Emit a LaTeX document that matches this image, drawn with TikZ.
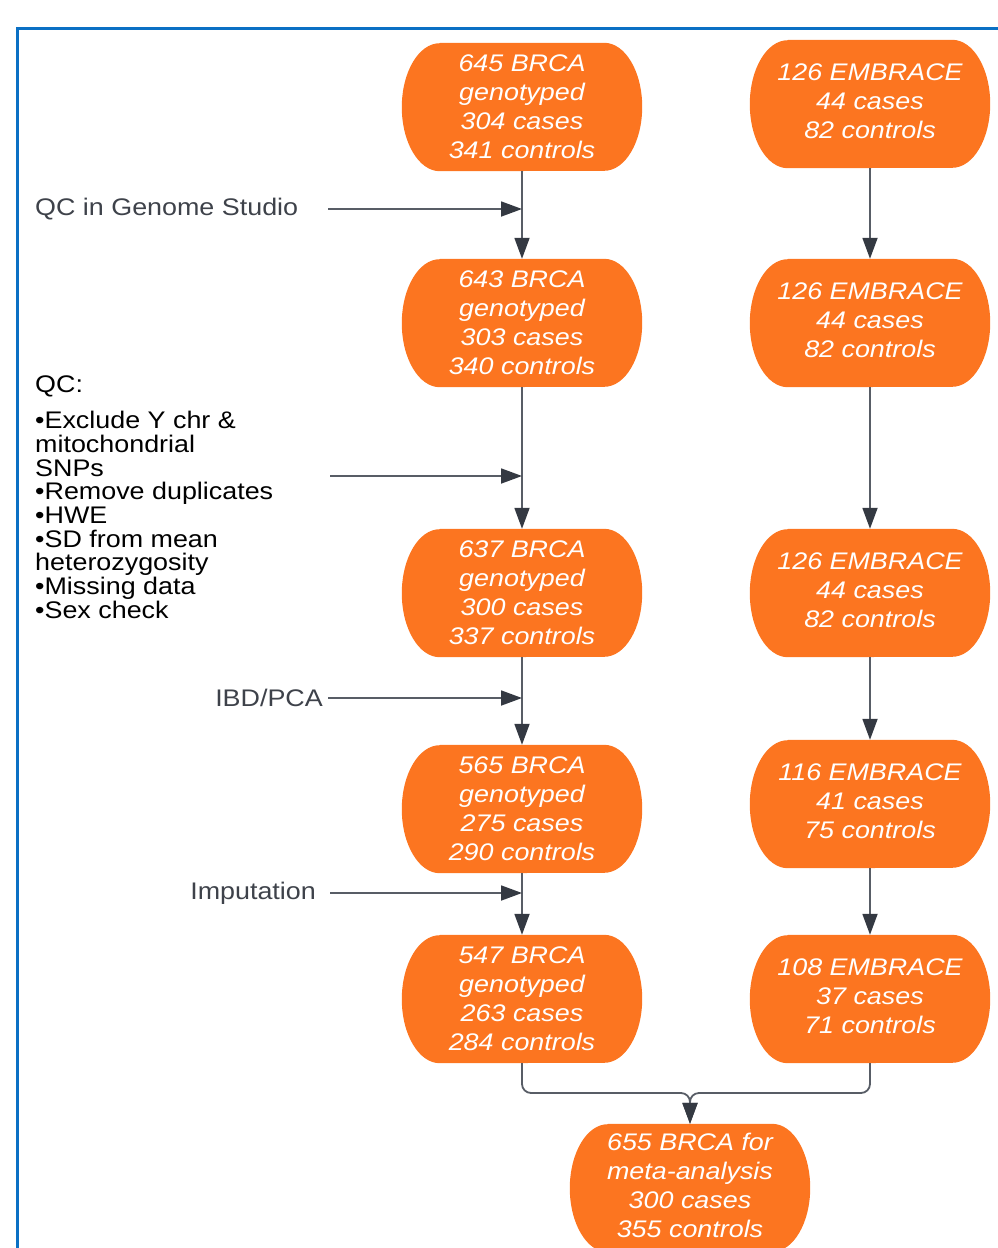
\documentclass[tikz,border=0pt]{standalone}
\usepackage{fontspec}
\setmainfont{Liberation Sans}[FakeStretch=1.12]
\usetikzlibrary{arrows.meta,backgrounds}
\definecolor{boxorange}{RGB}{252,117,32}
\definecolor{framecol}{RGB}{10,112,196}
\definecolor{linecol}{RGB}{88,93,102}
\definecolor{headcol}{RGB}{52,57,66}
\definecolor{labelcol}{RGB}{62,66,74}
\tikzset{
  pill/.style={minimum width=240pt, minimum height=128pt, inner sep=0pt,
    align=center, text=white, font=\fontsize{24}{29}\selectfont\itshape},
  conn/.style={draw=linecol, line width=1.8pt,
    -{Triangle[length=21pt,width=15pt,fill=headcol,color=headcol]}},
  sidelabel/.style={inner sep=0pt, text=labelcol, font=\fontsize{24}{28}\selectfont},
  listlabel/.style={inner sep=0pt, text=black, align=left, font=\fontsize{24}{23.7}\selectfont},
}
% lines of a box set as a centred one-column table
\newcommand{\boxlines}[1]{\begin{tabular}{@{}c@{}}#1\end{tabular}}
\newcommand{\pillshape}[1]{%
  \fill[boxorange] ([xshift=38pt]#1.north west) -- ([xshift=-38pt]#1.north east)
    arc[start angle=90, end angle=-90, x radius=38pt, y radius=64pt]
    -- ([xshift=38pt]#1.south west)
    arc[start angle=270, end angle=90, x radius=38pt, y radius=64pt] -- cycle;}
\begin{document}
\begin{tikzpicture}[x=1pt,y=1pt]
\useasboundingbox (0,0) rectangle (998,-1248);
% frame
\draw[framecol, line width=3.5pt] (17.5,-1270) -- (17.5,-28.3) -- (1020,-28.3);

% left column
\node[pill] (b1) at (522,-107) {645 BRCA\\genotyped\\304 cases\\341 controls};
\node[pill] (b2) at (522,-323) {643 BRCA\\genotyped\\303 cases\\340 controls};
\node[pill] (b3) at (522,-593) {637 BRCA\\genotyped\\300 cases\\337 controls};
\node[pill] (b4) at (522,-809) {565 BRCA\\genotyped\\275 cases\\290 controls};
\node[pill] (b5) at (522,-999) {547 BRCA\\genotyped\\263 cases\\284 controls};
% right column
\node[pill] (r1) at (870,-104) {\boxlines{126 EMBRACE\\44 cases\\82 controls}};
\node[pill] (r2) at (870,-323) {\boxlines{126 EMBRACE\\44 cases\\82 controls}};
\node[pill] (r3) at (870,-593) {\boxlines{126 EMBRACE\\44 cases\\82 controls}};
\node[pill] (r4) at (870,-804) {\boxlines{116 EMBRACE\\41 cases\\75 controls}};
\node[pill] (r5) at (870,-999) {\boxlines{108 EMBRACE\\37 cases\\71 controls}};
% merged
\node[pill] (m) at (690,-1188) {\boxlines{655 BRCA for\\meta-analysis\\300 cases\\355 controls}};

\begin{pgfonlayer}{background}
\foreach \n in {b1,b2,b3,b4,b5,r1,r2,r3,r4,r5,m} {\pillshape{\n}}
\end{pgfonlayer}

% labels
\node[sidelabel, anchor=west] (qcg) at (35,-209) {QC in Genome Studio};
\node[listlabel, anchor=west] (qc) at (35,-386) {QC:};
\node[listlabel, anchor=north west] (list) at (35,-411) {•Exclude Y chr \&\\mitochondrial\\SNPs\\•Remove duplicates\\•HWE\\•SD from mean\\heterozygosity\\•Missing data\\•Sex check};
\node[sidelabel, anchor=east] (ibd) at (323,-698) {IBD/PCA};
\node[sidelabel, anchor=east] (imp) at (316,-893) {Imputation};

% side arrow starts
\coordinate (s1) at (328,-209);
\coordinate (s2) at (330,-476);
\coordinate (s3) at (328,-698);
\coordinate (s4) at (330,-893);
\coordinate (j) at (690,-1093);

% vertical connectors
\draw[conn] (b1) -- (b2);
\draw[conn] (b2) -- (b3);
\draw[conn] (b3) -- (b4);
\draw[conn] (b4) -- (b5);
\draw[conn] (r1) -- (r2);
\draw[conn] (r2) -- (r3);
\draw[conn] (r3) -- (r4);
\draw[conn] (r4) -- (r5);
% side connectors
\draw[conn] (s1) -- (s1 -| b1.south);
\draw[conn] (s2) -- (s2 -| b2.south);
\draw[conn] (s3) -- (s3 -| b3.south);
\draw[conn] (s4) -- (s4 -| b4.south);
% merge
\draw[conn, rounded corners=9pt] (b5.south) |- (j) -- (m.north);
\draw[conn, rounded corners=9pt] (r5.south) |- (j) -- (m.north);
\end{tikzpicture}
\end{document}
